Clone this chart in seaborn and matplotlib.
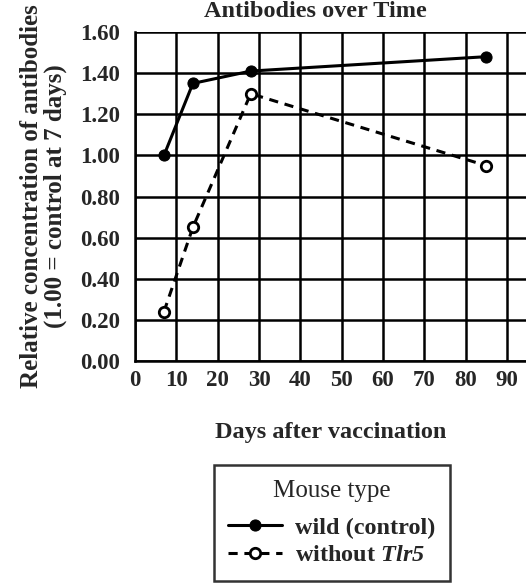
import matplotlib
matplotlib.use("Agg")
import matplotlib.pyplot as plt
import seaborn as sns
import pandas as pd

# values
days = [7, 14, 28, 85]
wild = [1.00, 1.35, 1.41, 1.48]
without_tlr5 = [0.24, 0.65, 1.30, 0.95]
x_ticks = [0, 10, 20, 30, 40, 50, 60, 70, 80, 90]
y_ticks = [0.0, 0.2, 0.4, 0.6, 0.8, 1.0, 1.2, 1.4, 1.6]

sns.set_theme(style="white")
plt.rcParams['font.family'] = ['Liberation Serif', 'DejaVu Serif']
# mathtext is only used for the italic gene name, digits included
plt.rcParams['mathtext.fontset'] = 'custom'
plt.rcParams['mathtext.it'] = 'Liberation Serif:italic:bold'
plt.rcParams['mathtext.rm'] = 'Liberation Serif:italic:bold'

df = pd.DataFrame({'Days': days, 'wild': wild, 'without': without_tlr5})

fig = plt.figure(figsize=(5.26, 5.85), dpi=100)
ax = fig.add_axes([0.2567, 0.3829, 0.7433, 0.5624])

sns.lineplot(data=df, x='Days', y='wild', ax=ax, color='black', lw=2.2,
             marker='o', markersize=8, markerfacecolor='black',
             markeredgecolor='black', label='wild (control)', zorder=5)
sns.lineplot(data=df, x='Days', y='without', ax=ax, color='black', lw=2.2,
             linestyle=(0, (3, 2.2)), marker='o', markersize=7.5,
             markerfacecolor='white', markeredgecolor='black',
             markeredgewidth=2, label='without $\\mathit{Tlr5}$', zorder=5)

ax.set_xlim(0, 94.6)
ax.set_ylim(0, 1.6)
ax.set_xticks(x_ticks)
ax.set_yticks(y_ticks)
ax.set_yticklabels([f"{v:.2f}" for v in y_ticks])
ax.grid(True, color='black', lw=1.8)
ax.set_axisbelow(True)
for side in ['top', 'right']:
    ax.spines[side].set_visible(False)
for side in ['left', 'bottom']:
    ax.spines[side].set_color('black')
    ax.spines[side].set_linewidth(1.8)
ax.tick_params(axis='both', direction='out', length=5, width=1.8,
               color='black', labelsize=16.5)
ax.tick_params(axis='x', pad=1.5)
ax.tick_params(axis='y', pad=6)
for t in ax.get_xticklabels() + ax.get_yticklabels():
    t.set_fontweight('bold')

ax.set_xlabel('Days after vaccination', fontsize=17.5, fontweight='bold', labelpad=22)
ax.set_ylabel('Relative concentration of antibodies\n(1.00 = control at 7 days)',
              fontsize=18, fontweight='bold', labelpad=9, linespacing=1.05)
fig.text(0.6, 0.999, 'Antibodies over Time', ha='center', va='top',
         fontsize=17.5, fontweight='bold')

leg = ax.legend(loc='upper center', bbox_to_anchor=(332 / 526, 1 - 465 / 585),
                bbox_transform=fig.transFigure, borderaxespad=0,
                title='Mouse type', fontsize=17.5, title_fontsize=18,
                frameon=True, fancybox=False, edgecolor='black',
                handlelength=2.2, handletextpad=0.55, borderpad=0.6,
                labelspacing=0.22)
leg.get_frame().set_linewidth(1.8)
leg._legend_box.sep = 11
for t in leg.get_texts():
    t.set_fontweight('bold')

fig.savefig('out.png', dpi=100)
